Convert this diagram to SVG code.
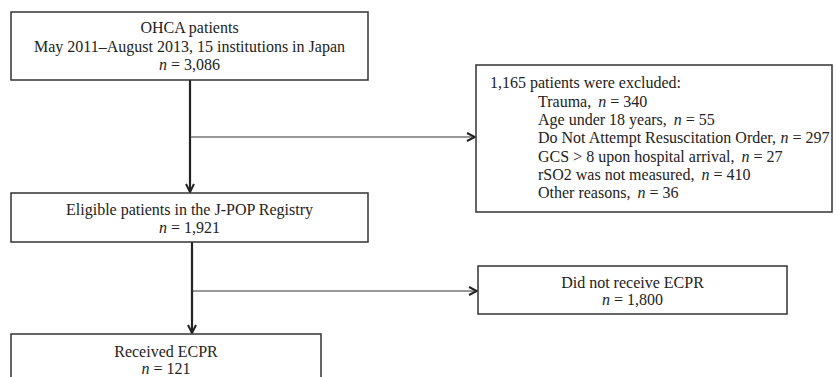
<svg xmlns="http://www.w3.org/2000/svg" width="837" height="377" viewBox="0 0 837 377">
<defs>
<style>
.box{fill:#fff;stroke:#333;stroke-width:1.5}
text{font-family:"Liberation Serif","Times New Roman",serif;font-size:16px;fill:#222}
.c{text-anchor:middle}
.main{stroke:#222;stroke-width:2.2;fill:none}
.br{stroke:#333;stroke-width:1.1;fill:none}
</style>
<marker id="ah" viewBox="0 0 10 10" refX="9" refY="5" markerWidth="10" markerHeight="10" markerUnits="userSpaceOnUse" orient="auto">
<path d="M1,1 L9,5 L1,9" fill="none" stroke="#222" stroke-width="2"/>
</marker>
</defs>
<rect width="837" height="377" fill="#fff"/>
<g id="connectors">
<line class="main" x1="190" y1="80" x2="190" y2="192" marker-end="url(#ah)"/>
<line class="br" x1="190" y1="137" x2="475" y2="137" marker-end="url(#ah)"/>
<line class="main" x1="192" y1="242" x2="192" y2="333" marker-end="url(#ah)"/>
<line class="br" x1="192" y1="291" x2="477" y2="291" marker-end="url(#ah)"/>
</g>
<g id="n1">
<rect class="box" x="11" y="12" width="357" height="68"/>
<text class="c" x="189.5" y="33">OHCA patients</text>
<text class="c" x="189.5" y="52">May 2011–August 2013, 15 institutions in Japan</text>
<text class="c" x="189.5" y="70"><tspan font-style="italic">n</tspan> = 3,086</text>
</g>
<g id="n2">
<rect class="box" x="476" y="65" width="356" height="147"/>
<text x="490" y="88">1,165 patients were excluded:</text>
<text x="538" y="107">Trauma, <tspan dx="3" font-style="italic">n</tspan> = 340</text>
<text x="538" y="125">Age under 18 years, <tspan dx="3" font-style="italic">n</tspan> = 55</text>
<text x="538" y="143">Do Not Attempt Resuscitation Order, <tspan dx="0.5" font-style="italic">n</tspan> = 297</text>
<text x="538" y="162">GCS &gt; 8 upon hospital arrival, <tspan dx="3" font-style="italic">n</tspan> = 27</text>
<text x="538" y="180">rSO2 was not measured, <tspan dx="3" font-style="italic">n</tspan> = 410</text>
<text x="538" y="198">Other reasons, <tspan dx="3" font-style="italic">n</tspan> = 36</text>
</g>
<g id="n3">
<rect class="box" x="11" y="193" width="357" height="49"/>
<text class="c" x="189.5" y="215">Eligible patients in the J-POP Registry</text>
<text class="c" x="189.5" y="233"><tspan font-style="italic">n</tspan> = 1,921</text>
</g>
<g id="n4">
<rect class="box" x="478" y="266" width="309" height="48"/>
<text class="c" x="632.5" y="288">Did not receive ECPR</text>
<text class="c" x="632.5" y="305"><tspan font-style="italic">n</tspan> = 1,800</text>
</g>
<g id="n5">
<rect class="box" x="11" y="334" width="310" height="60"/>
<text class="c" x="166" y="357">Received ECPR</text>
<text class="c" x="166" y="374"><tspan font-style="italic">n</tspan> = 121</text>
</g>
</svg>
